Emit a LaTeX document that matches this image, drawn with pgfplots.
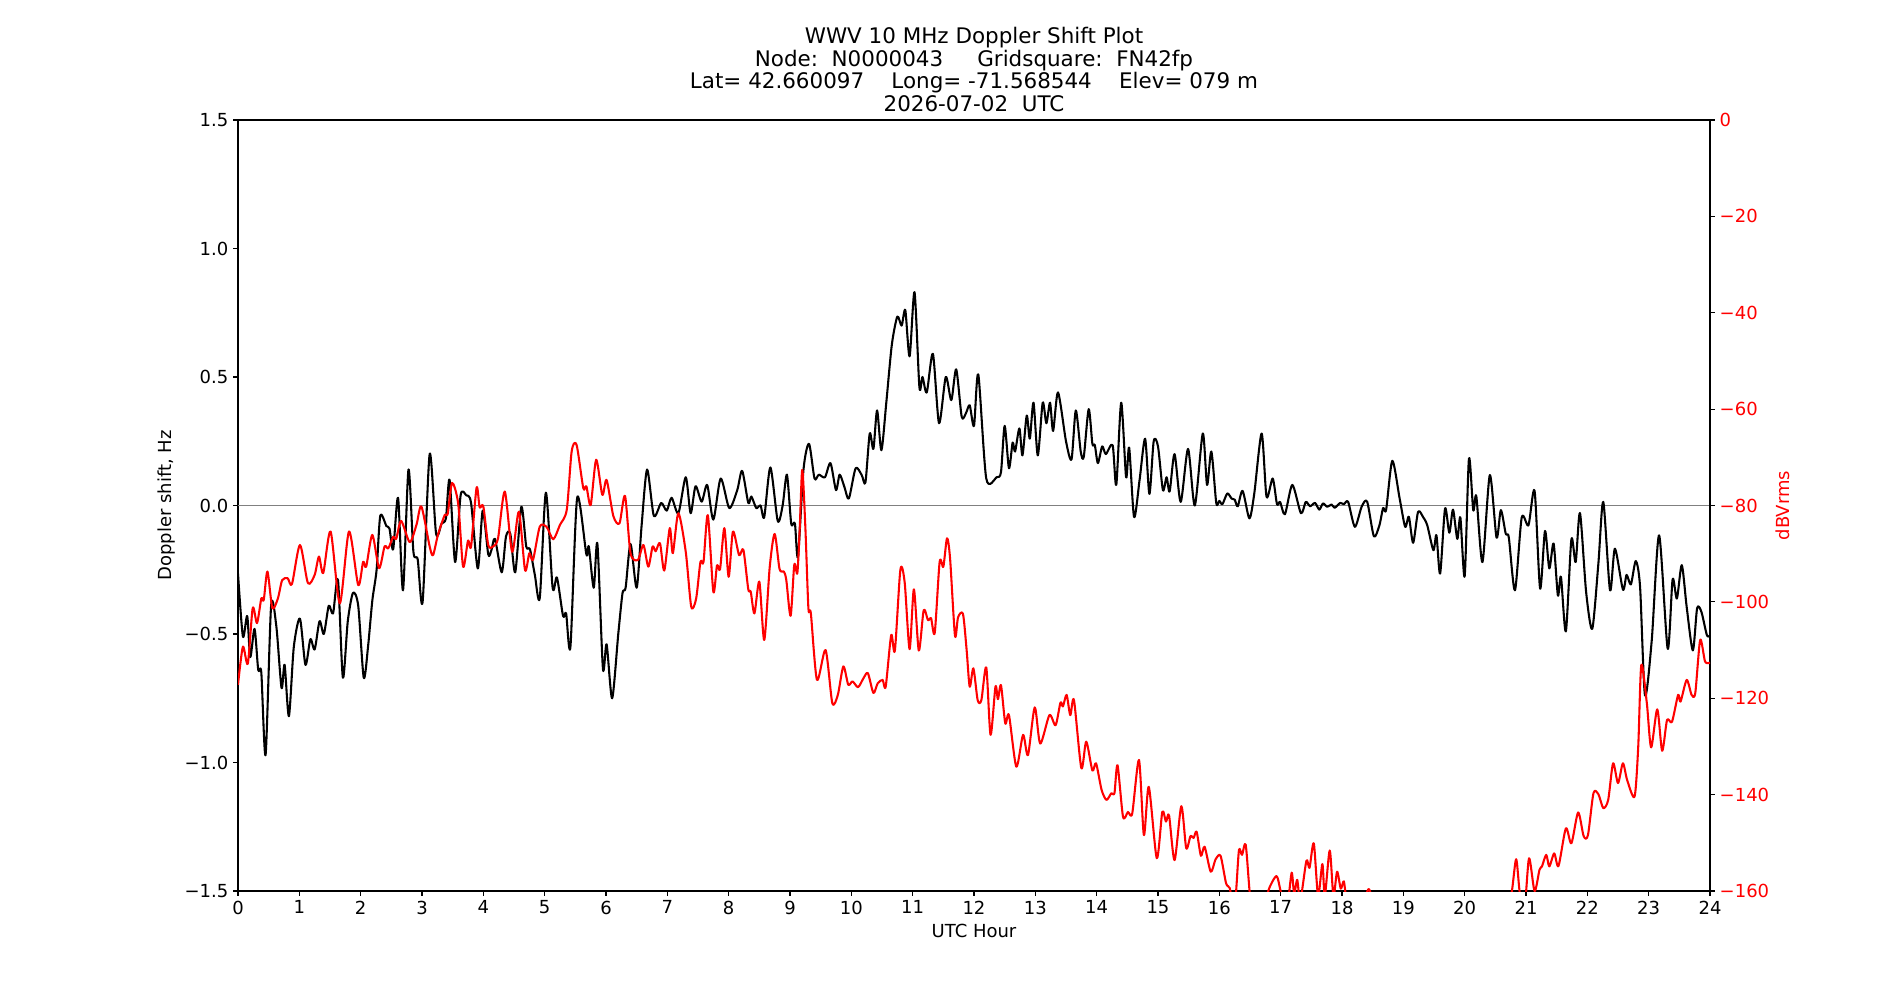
\documentclass[border=0pt]{standalone}
\usepackage{fontspec}
\setmainfont{DejaVu Sans}
\usepackage{pgfplots}
\usepackage{pgfplotstable}
\pgfplotsset{compat=1.18}

% Doppler shift (Hz) against UTC hour
\pgfplotstableread{
h d
0.00 -0.265
0.08 -0.51
0.15 -0.43
0.20 -0.59
0.27 -0.48
0.33 -0.64
0.38 -0.65
0.45 -0.97
0.54 -0.39
0.625 -0.47
0.71 -0.71
0.76 -0.62
0.83 -0.82
0.91 -0.55
1.01 -0.44
1.10 -0.62
1.18 -0.52
1.25 -0.56
1.33 -0.45
1.40 -0.50
1.48 -0.39
1.55 -0.42
1.63 -0.29
1.71 -0.67
1.79 -0.45
1.875 -0.34
1.96 -0.39
2.05 -0.67
2.12 -0.55
2.19 -0.37
2.26 -0.25
2.32 -0.04
2.42 -0.08
2.47 -0.09
2.53 -0.17
2.61 0.03
2.69 -0.33
2.78 0.14
2.86 -0.18
2.93 -0.21
3.01 -0.375
3.125 0.20
3.23 -0.11
3.32 -0.07
3.39 -0.05
3.45 0.10
3.54 -0.22
3.63 0.04
3.72 0.04
3.80 0.01
3.91 -0.245
3.99 -0.02
4.08 -0.19
4.13 -0.175
4.19 -0.13
4.30 -0.26
4.37 -0.12
4.44 -0.11
4.52 -0.26
4.62 -0.005
4.70 -0.16
4.76 -0.17
4.84 -0.27
4.92 -0.36
5.02 0.05
5.13 -0.32
5.20 -0.28
5.30 -0.43
5.35 -0.42
5.42 -0.55
5.53 0.03
5.68 -0.19
5.72 -0.16
5.80 -0.32
5.86 -0.15
5.95 -0.635
6.01 -0.54
6.10 -0.75
6.20 -0.50
6.27 -0.34
6.32 -0.32
6.40 -0.15
6.50 -0.32
6.58 -0.08
6.67 0.14
6.78 -0.04
6.90 0.01
6.99 -0.02
7.07 0.03
7.18 -0.03
7.30 0.11
7.38 -0.03
7.46 0.075
7.56 0.015
7.65 0.08
7.75 -0.055
7.87 0.105
8.01 -0.01
8.14 0.06
8.22 0.135
8.32 0.01
8.37 0.035
8.45 -0.01
8.52 0.00
8.58 -0.045
8.68 0.148
8.80 -0.06
8.88 0.00
8.95 0.12
9.02 -0.07
9.08 -0.07
9.13 -0.20
9.22 0.14
9.31 0.24
9.40 0.105
9.47 0.12
9.57 0.11
9.66 0.165
9.75 0.06
9.81 0.12
9.89 0.07
9.96 0.027
10.07 0.145
10.17 0.118
10.23 0.09
10.30 0.28
10.36 0.22
10.42 0.37
10.49 0.215
10.57 0.40
10.66 0.625
10.75 0.735
10.82 0.70
10.88 0.76
10.95 0.58
11.03 0.83
11.11 0.46
11.16 0.50
11.23 0.44
11.33 0.59
11.43 0.32
11.54 0.50
11.63 0.41
11.71 0.53
11.80 0.345
11.87 0.36
11.93 0.39
12.00 0.31
12.07 0.51
12.20 0.105
12.37 0.11
12.44 0.13
12.50 0.31
12.57 0.145
12.63 0.245
12.67 0.21
12.74 0.30
12.79 0.195
12.86 0.35
12.91 0.26
12.97 0.40
13.04 0.195
13.12 0.40
13.18 0.32
13.24 0.40
13.29 0.29
13.37 0.44
13.50 0.25
13.59 0.18
13.66 0.37
13.74 0.21
13.79 0.19
13.87 0.375
13.93 0.24
13.97 0.235
14.02 0.165
14.09 0.23
14.15 0.20
14.26 0.235
14.32 0.08
14.40 0.40
14.48 0.11
14.53 0.225
14.61 -0.045
14.70 0.10
14.79 0.26
14.86 0.045
14.93 0.25
15.00 0.23
15.08 0.06
15.14 0.11
15.19 0.055
15.27 0.20
15.37 0.014
15.49 0.22
15.60 0.00
15.73 0.28
15.80 0.08
15.87 0.21
15.95 0.01
16.00 0.018
16.05 0.005
16.13 0.047
16.20 0.027
16.25 0.023
16.30 -0.003
16.38 0.057
16.49 -0.05
16.57 0.047
16.69 0.28
16.77 0.034
16.87 0.105
16.94 0.005
16.99 0.014
17.07 -0.034
17.19 0.08
17.33 -0.03
17.41 0.014
17.48 -0.003
17.56 0.01
17.63 -0.016
17.69 0.008
17.76 -0.005
17.83 0.004
17.88 -0.009
17.97 0.01
18.03 0.005
18.10 0.014
18.21 -0.083
18.32 -0.005
18.41 0.015
18.52 -0.12
18.61 -0.077
18.67 -0.01
18.72 -0.016
18.82 0.174
18.94 0.027
19.03 -0.083
19.09 -0.044
19.16 -0.145
19.24 -0.025
19.32 -0.044
19.39 -0.077
19.49 -0.174
19.54 -0.116
19.60 -0.265
19.68 -0.012
19.75 -0.106
19.81 -0.016
19.88 -0.13
19.93 -0.047
20.00 -0.275
20.07 0.183
20.14 -0.018
20.19 0.036
20.29 -0.22
20.41 0.118
20.52 -0.125
20.59 -0.018
20.67 -0.11
20.72 -0.125
20.82 -0.33
20.93 -0.047
21.04 -0.077
21.14 0.057
21.23 -0.323
21.31 -0.099
21.38 -0.245
21.45 -0.148
21.52 -0.35
21.57 -0.278
21.65 -0.49
21.74 -0.132
21.81 -0.22
21.88 -0.029
21.98 -0.336
22.08 -0.48
22.18 -0.226
22.26 0.014
22.37 -0.33
22.45 -0.168
22.58 -0.327
22.64 -0.27
22.71 -0.307
22.79 -0.216
22.86 -0.317
22.94 -0.739
23.05 -0.525
23.17 -0.116
23.31 -0.557
23.39 -0.288
23.46 -0.362
23.54 -0.232
23.62 -0.395
23.72 -0.564
23.79 -0.40
23.86 -0.414
23.95 -0.505
24.00 -0.505
}\doppler

% Received signal level (dBVrms) against UTC hour
\pgfplotstableread{
h v
0.00 -117.2
0.08 -109.3
0.16 -112.8
0.24 -101.3
0.31 -104.4
0.38 -99.3
0.42 -99.6
0.48 -93.7
0.56 -101.3
0.65 -99.3
0.72 -95.5
0.81 -95.1
0.88 -96.3
1.01 -88.2
1.14 -96.1
1.25 -94.4
1.32 -90.6
1.39 -94.0
1.51 -85.4
1.66 -100.3
1.81 -85.4
1.96 -96.5
2.04 -91.7
2.09 -92.7
2.19 -86.1
2.30 -93.0
2.39 -88.5
2.45 -88.9
2.53 -86.5
2.58 -86.9
2.66 -83.2
2.80 -87.6
2.91 -84.0
2.99 -80.2
3.125 -88.5
3.18 -90.3
3.26 -86.1
3.37 -82.0
3.42 -81.7
3.49 -75.3
3.59 -79.6
3.67 -92.7
3.75 -87.3
3.80 -88.5
3.89 -76.3
3.94 -80.4
4.00 -80.2
4.08 -88.2
4.16 -88.5
4.24 -86.8
4.35 -77.1
4.47 -89.6
4.58 -81.3
4.68 -93.4
4.75 -89.9
4.81 -91.3
4.92 -84.4
5.03 -84.4
5.14 -87.0
5.25 -84.0
5.36 -80.9
5.44 -68.8
5.52 -67.4
5.63 -76.4
5.68 -76.0
5.75 -79.9
5.84 -70.5
5.94 -77.8
6.01 -74.7
6.12 -82.2
6.22 -83.7
6.31 -78.0
6.40 -89.9
6.52 -91.3
6.61 -88.2
6.69 -92.7
6.76 -88.5
6.81 -89.5
6.88 -87.8
6.95 -93.5
7.04 -84.7
7.09 -89.9
7.18 -81.6
7.30 -89.6
7.39 -101.0
7.47 -99.3
7.54 -91.7
7.59 -91.7
7.66 -82.0
7.75 -97.9
7.81 -92.4
7.86 -93.2
7.93 -84.7
8.00 -94.8
8.07 -85.4
8.17 -90.3
8.24 -89.2
8.32 -97.4
8.36 -97.9
8.42 -102.4
8.50 -95.8
8.58 -107.9
8.67 -92.7
8.75 -85.9
8.83 -93.2
8.90 -93.7
8.94 -95.5
9.01 -102.9
9.07 -92.3
9.12 -94.0
9.16 -84.4
9.20 -72.6
9.25 -84.4
9.30 -101.3
9.34 -102.4
9.44 -116.2
9.58 -110.0
9.69 -121.0
9.78 -119.3
9.87 -113.4
9.95 -117.2
10.02 -116.5
10.11 -117.7
10.20 -115.8
10.27 -114.8
10.36 -118.9
10.43 -116.9
10.51 -116.2
10.56 -117.6
10.65 -106.9
10.71 -110.1
10.80 -93.3
10.87 -96.0
10.95 -109.8
11.02 -97.4
11.10 -110.1
11.18 -101.7
11.25 -103.8
11.30 -103.4
11.36 -106.4
11.44 -91.7
11.50 -92.7
11.56 -86.8
11.61 -91.0
11.69 -107.0
11.74 -103.2
11.82 -102.5
11.88 -110.0
11.93 -117.6
11.99 -113.8
12.06 -120.4
12.12 -120.4
12.20 -113.6
12.27 -127.6
12.35 -117.6
12.39 -120.2
12.44 -117.3
12.51 -125.2
12.57 -123.5
12.69 -134.2
12.80 -127.6
12.88 -131.8
12.99 -121.9
13.08 -129.4
13.23 -123.5
13.33 -125.6
13.41 -120.9
13.45 -121.7
13.51 -119.3
13.57 -123.5
13.63 -120.4
13.75 -134.5
13.83 -129.0
13.93 -135.0
13.99 -133.5
14.08 -139.0
14.16 -141.1
14.24 -139.7
14.29 -139.7
14.34 -133.9
14.43 -144.6
14.51 -143.6
14.58 -143.9
14.69 -132.8
14.77 -148.4
14.85 -138.4
14.98 -153.2
15.07 -143.6
15.13 -145.6
15.18 -144.3
15.27 -153.6
15.38 -142.4
15.46 -151.1
15.53 -148.6
15.58 -149.0
15.63 -147.7
15.70 -152.7
15.76 -150.8
15.86 -156.0
15.94 -153.4
16.02 -152.7
16.11 -158.4
16.17 -159.4
16.22 -163.0
16.27 -160.5
16.32 -151.5
16.37 -152.5
16.43 -150.4
16.50 -161.0
16.58 -168.0
16.70 -166.0
16.80 -159.9
16.93 -156.9
16.99 -159.5
17.05 -163.0
17.12 -162.0
17.18 -156.2
17.22 -160.5
17.27 -157.7
17.32 -162.0
17.42 -153.7
17.47 -155.2
17.54 -150.1
17.61 -161.0
17.68 -154.4
17.72 -161.0
17.80 -151.6
17.86 -161.0
17.92 -156.0
17.98 -159.5
18.03 -158.0
18.08 -162.0
18.25 -168.0
18.43 -159.6
18.55 -165.0
18.80 -170.0
19.20 -168.0
19.60 -172.0
20.00 -170.0
20.40 -168.0
20.70 -163.0
20.77 -160.0
20.84 -153.4
20.90 -160.5
20.98 -163.0
21.05 -153.2
21.14 -160.0
21.22 -155.6
21.26 -154.9
21.33 -152.5
21.38 -154.9
21.46 -152.2
21.53 -154.8
21.65 -147.0
21.74 -150.1
21.85 -143.7
21.94 -148.6
22.01 -148.4
22.10 -139.7
22.18 -139.9
22.26 -142.8
22.34 -141.1
22.42 -133.5
22.50 -137.6
22.58 -133.5
22.65 -137.0
22.77 -140.4
22.83 -130.0
22.88 -113.1
22.97 -121.0
23.04 -130.2
23.14 -122.3
23.22 -130.9
23.30 -124.5
23.38 -124.9
23.48 -119.3
23.52 -120.7
23.62 -116.2
23.70 -119.3
23.76 -118.9
23.84 -107.9
23.92 -112.4
24.00 -112.6
}\level

\pgfplotsset{
  frameaxis/.style={
    scale only axis, width=14.72in, height=7.71in,
    at={(0,0)}, anchor=south west,
    xmin=0, xmax=24,
    axis line style={line width=0.8pt},
    tick align=outside,
    major tick length=3.5pt,
    every tick/.style={black, line width=0.8pt},
    tick label style={font=\fontsize{13}{15}\selectfont},
    clip=true,
  },
}

\begin{document}
\begin{tikzpicture}[x=1in, y=1in]
\fill[white] (-2.38,-1.09) rectangle (16.62,8.91);

\begin{axis}[frameaxis,
  ymin=-1.5, ymax=1.5,
  xtick={0,1,...,24},
  xticklabels={0,1,2,3,4,5,6,7,8,9,10,11,12,13,14,15,16,17,18,19,20,21,22,23,24},
  xtick pos=bottom,
  ytick={-1.5,-1,-0.5,0,0.5,1,1.5},
  yticklabels={−1.5,−1.0,−0.5,0.0,0.5,1.0,1.5},
  ytick pos=left,
]
\draw[gray, line width=1pt] (axis cs:0,0) -- (axis cs:24,0);
\addplot[black, line width=1.5pt, line join=round, smooth, tension=0.45]
  table[x=h, y=d] {\doppler};
\end{axis}

\begin{axis}[frameaxis,
  ymin=-160, ymax=0,
  axis x line=none,
  axis y line*=right,
  ytick={-160,-140,...,0},
  yticklabels={−160,−140,−120,−100,−80,−60,−40,−20,0},
  ytick pos=right,
  yticklabel style={text=red},
]
\addplot[red, line width=1.5pt, line join=round, smooth, tension=0.45]
  table[x=h, y=v] {\level};
\end{axis}

% titles and axis labels
\node[align=center, font=\fontsize{15.5}{16.6}\selectfont] at (7.36,8.215)
  {WWV 10 MHz Doppler Shift Plot\\
   Node:\ \ N0000043\ \ \ \ \ Gridsquare:\ \ FN42fp\\
   Lat= 42.660097\ \ \ \ Long= -71.568544\ \ \ \ Elev= 079 m\\
   2026-07-02\ \ UTC};
\node[font=\fontsize{13}{15}\selectfont] at (7.36,-0.40) {UTC Hour};
\node[font=\fontsize{13}{15}\selectfont, rotate=90] at (-0.71,3.855) {Doppler shift, Hz};
\node[font=\fontsize{13}{15}\selectfont, rotate=90, text=red] at (15.45,3.855) {dBVrms};
\end{tikzpicture}
\end{document}
